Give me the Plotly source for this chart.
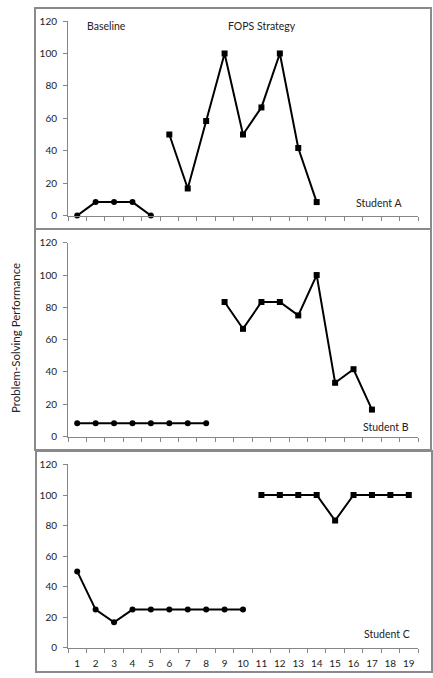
import plotly.graph_objects as go

W, H = 433, 678

sessions = [str(i) for i in range(1, 20)]

a_base_x = ["1", "2", "3", "4", "5"]
a_base_y = [0, 8.3, 8.3, 8.3, 0]
a_fops_x = ["6", "7", "8", "9", "10", "11", "12", "13", "14"]
a_fops_y = [50, 16.7, 58.3, 100, 50, 66.7, 100, 41.7, 8.3]

b_base_x = ["1", "2", "3", "4", "5", "6", "7", "8"]
b_base_y = [8.3, 8.3, 8.3, 8.3, 8.3, 8.3, 8.3, 8.3]
b_fops_x = ["9", "10", "11", "12", "13", "14", "15", "16", "17"]
b_fops_y = [83.3, 66.7, 83.3, 83.3, 75, 100, 33.3, 41.7, 16.7]

c_base_x = ["1", "2", "3", "4", "5", "6", "7", "8", "9", "10"]
c_base_y = [50, 25, 16.7, 25, 25, 25, 25, 25, 25, 25]
c_fops_x = ["11", "12", "13", "14", "15", "16", "17", "18", "19"]
c_fops_y = [100, 100, 100, 100, 83.3, 100, 100, 100, 100]

phase_labels = ["Baseline", "FOPS Strategy"]
student_labels = ["Student A", "Student B", "Student C"]
y_title = "Problem-Solving Performance"
y_ticks = [0, 20, 40, 60, 80, 100, 120]

FONT = "Lato"
AXC = "#868686"

def px_x(p):
    return p / W

def px_y(p):
    return 1 - p / H

fig = go.Figure()

panels = [
    (a_base_x, a_base_y, a_fops_x, a_fops_y, "x", "y"),
    (b_base_x, b_base_y, b_fops_x, b_fops_y, "x2", "y2"),
    (c_base_x, c_base_y, c_fops_x, c_fops_y, "x3", "y3"),
]
for bx, by, fx, fy, xa, ya in panels:
    fig.add_trace(go.Scatter(x=bx, y=by, mode="lines+markers", xaxis=xa, yaxis=ya,
                             line=dict(color="black", width=2),
                             marker=dict(symbol="circle", size=6, color="black"),
                             showlegend=False, cliponaxis=False))
    fig.add_trace(go.Scatter(x=fx, y=fy, mode="lines+markers", xaxis=xa, yaxis=ya,
                             line=dict(color="black", width=2),
                             marker=dict(symbol="square", size=6, color="black"),
                             showlegend=False, cliponaxis=False))

xdom = [px_x(68), px_x(418)]
ydoms = [
    [px_y(212.3), px_y(14.3)],
    [px_y(437.3), px_y(240)],
    [px_y(652.3), px_y(465.7)],
]

def xaxis(anchor, show_labels):
    return dict(domain=xdom, anchor=anchor, type="category",
                categoryorder="array", categoryarray=sessions,
                range=[-0.5, 18.5], tickson="boundaries",
                ticks="outside", ticklen=4, tickcolor=AXC, tickwidth=1,
                showline=True, linecolor=AXC, linewidth=1,
                showgrid=False, zeroline=False, fixedrange=True,
                showticklabels=show_labels, tickangle=0,
                ticklabelstandoff=6,
                tickfont=dict(family=FONT, size=10, color="#222"))

def yaxis(anchor, dom):
    return dict(domain=dom, anchor=anchor, range=[0, 120],
                tickvals=y_ticks, ticks="outside", ticklen=4,
                tickcolor=AXC, tickwidth=1,
                showline=True, linecolor=AXC, linewidth=1,
                showgrid=False, zeroline=False, fixedrange=True,
                ticklabelstandoff=4,
                tickfont=dict(family=FONT, size=10, color="#222"))

fig.update_layout(
    width=W, height=H,
    margin=dict(l=0, r=0, t=0, b=0),
    paper_bgcolor="white", plot_bgcolor="white",
    xaxis=xaxis("y", False), yaxis=yaxis("x", ydoms[0]),
    xaxis2=xaxis("y2", False), yaxis2=yaxis("x2", ydoms[1]),
    xaxis3=xaxis("y3", True), yaxis3=yaxis("x3", ydoms[2]),
)

# panel borders
borders = [(35, 1, 431, 226), (35, 226, 431, 451), (36, 452, 432, 677)]
for x0, y0, x1, y1 in borders:
    fig.add_shape(type="rect", xref="paper", yref="paper",
                  x0=px_x(x0), x1=px_x(x1), y0=px_y(y1), y1=px_y(y0),
                  line=dict(color="#8a8a8a", width=2), layer="below")

def ann(text, x, y, xanchor="left", angle=0, size=10.5):
    fig.add_annotation(text=text, xref="paper", yref="paper",
                       x=px_x(x), y=px_y(y), xanchor=xanchor, yanchor="middle",
                       showarrow=False, textangle=angle,
                       font=dict(family=FONT, size=size, color="#222"))

ann(phase_labels[0], 85, 19)
ann(phase_labels[1], 226, 19)
ann(student_labels[0], 354, 200)
ann(student_labels[1], 361, 428)
ann(student_labels[2], 362, 638)
ann(y_title, 15, 337, xanchor="center", angle=-90, size=11.5)

fig.write_html("out.html")
